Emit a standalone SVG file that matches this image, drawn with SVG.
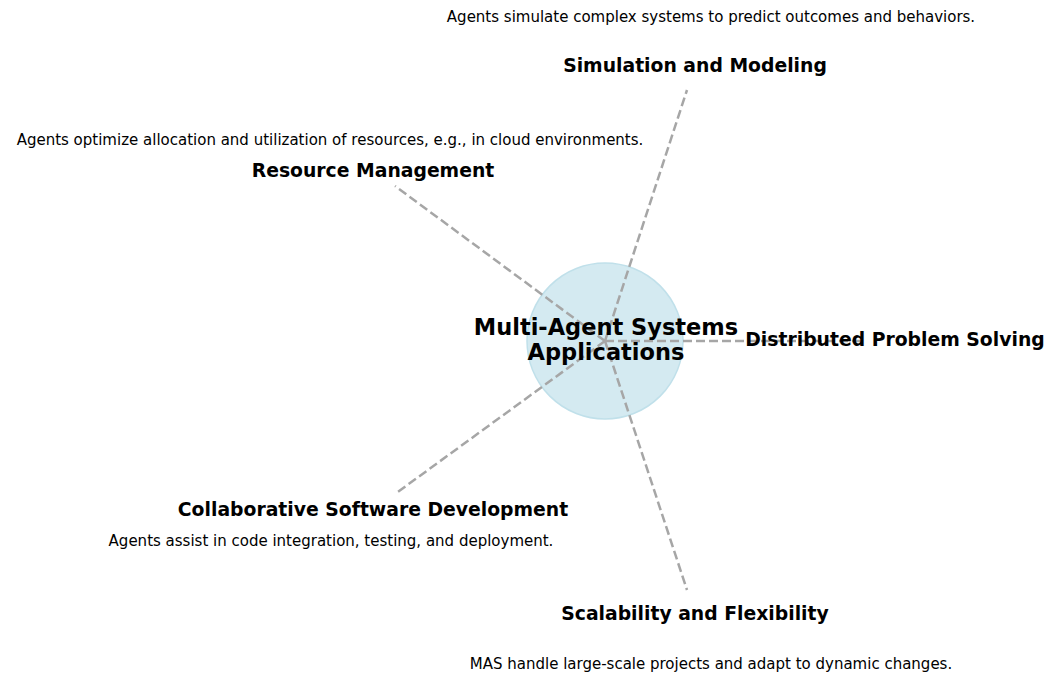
<svg xmlns="http://www.w3.org/2000/svg" width="1059" height="673" viewBox="0 0 1059 673">
<style>
.lbl{font-family:"DejaVu Sans",sans-serif;font-weight:bold;font-size:18.8px;fill:#000;text-anchor:middle}
.desc{font-family:"DejaVu Sans",sans-serif;font-size:15px;fill:#000;text-anchor:middle}
.title{font-family:"DejaVu Sans",sans-serif;font-weight:bold;font-size:22.5px;fill:#000;text-anchor:middle}
.conn{stroke:#a6a6a6;stroke-width:2.5;stroke-dasharray:9 4;fill:none}
</style>
<rect width="1059" height="673" fill="#ffffff"/>
<g id="center-circle">
<circle cx="605" cy="341" r="78" fill="#d4eaf1" stroke="#c0e0ea" stroke-width="1.5"/>
</g>
<g id="connectors">
<line class="conn" x1="605" y1="341" x2="687" y2="90"/>
<line class="conn" x1="605" y1="341" x2="395" y2="186"/>
<line class="conn" x1="605" y1="341" x2="865" y2="341"/>
<line class="conn" x1="605" y1="341" x2="395" y2="494"/>
<line class="conn" x1="605" y1="341" x2="687" y2="590"/>
</g>
<g id="center">
<text class="title" x="606" y="335">Multi-Agent Systems</text>
<text class="title" x="606" y="360">Applications</text>
</g>
<g id="simulation">
<text class="lbl" x="695" y="72">Simulation and Modeling</text>
<text class="desc" x="711" y="21.5">Agents simulate complex systems to predict outcomes and behaviors.</text>
</g>
<g id="resource">
<text class="lbl" x="373" y="177">Resource Management</text>
<text class="desc" x="330" y="144.5">Agents optimize allocation and utilization of resources, e.g., in cloud environments.</text>
</g>
<g id="distributed">
<text class="lbl" x="895" y="346">Distributed Problem Solving</text>
</g>
<g id="collaborative">
<text class="lbl" x="373" y="516">Collaborative Software Development</text>
<text class="desc" x="331" y="545.5">Agents assist in code integration, testing, and deployment.</text>
</g>
<g id="scalability">
<text class="lbl" x="695" y="620">Scalability and Flexibility</text>
<text class="desc" x="711" y="668.5">MAS handle large-scale projects and adapt to dynamic changes.</text>
</g>
</svg>
